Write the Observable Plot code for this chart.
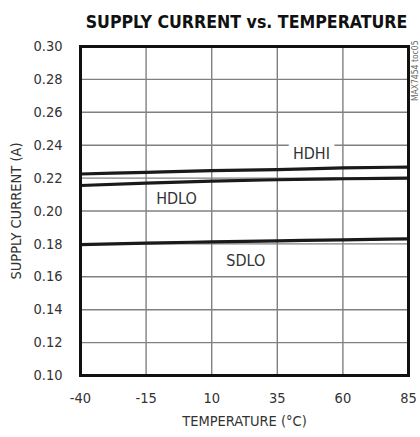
<!DOCTYPE html>
<html><head><meta charset="utf-8">
<script src="https://cdn.jsdelivr.net/npm/d3@7"></script>
<script src="https://cdn.jsdelivr.net/npm/@observablehq/plot@0.6"></script>
<style>
body{margin:0;background:#fff;}
</style>
</head><body>
<div id="chart"></div>
<script>
const temps = [-40, -15, 10, 35, 60, 85];
const hdhi = [0.2225, 0.2235, 0.2245, 0.2252, 0.2262, 0.2267];
const hdlo = [0.2155, 0.2170, 0.2182, 0.2190, 0.2196, 0.2200];
const sdlo = [0.1795, 0.1805, 0.1812, 0.1818, 0.1825, 0.1830];
const yTicks = [0.10, 0.12, 0.14, 0.16, 0.18, 0.20, 0.22, 0.24, 0.26, 0.28, 0.30];
const labels = [
  {name: "HDHI", t: 48, v: 0.2350},
  {name: "HDLO", t: -3.4, v: 0.2074},
  {name: "SDLO", t: 23, v: 0.1695}
];
const seriesNames = ["HDHI", "HDLO", "SDLO"];
const seriesVals = [hdhi, hdlo, sdlo];
const rows = seriesNames.flatMap((s, i) => temps.map((t, j) => ({series: s, t, v: seriesVals[i][j]})));

const font = "'DejaVu Sans Condensed', 'Liberation Sans Narrow', sans-serif";

const chart = Plot.plot({
  width: 420,
  height: 437,
  marginLeft: 80,
  marginRight: 12,
  marginTop: 46,
  marginBottom: 62,
  style: {fontFamily: font, fontSize: "14.5px", color: "#333", background: "#fff"},
  x: {domain: [-40, 85], ticks: temps, tickSize: 0, tickPadding: 17, tickFormat: d => String(d),
      label: "TEMPERATURE (°C)", labelAnchor: "center", labelOffset: 50, labelArrow: "none"},
  y: {domain: [0.10, 0.30], ticks: yTicks, tickSize: 0, tickPadding: 18, tickFormat: d3.format(".2f"),
      label: "SUPPLY CURRENT (A)", labelAnchor: "center", labelOffset: 70, labelArrow: "none"},
  marks: [
    Plot.gridX(temps, {stroke: "#808080", strokeOpacity: 1, strokeWidth: 1.4}),
    Plot.gridY(yTicks, {stroke: "#808080", strokeOpacity: 1, strokeWidth: 1.4}),
    Plot.text(labels, {x: "t", y: "v", text: "name", fontSize: 16, fill: "#333", stroke: "white", strokeWidth: 12, fontFamily: font}),
    Plot.line(rows, {x: "t", y: "v", z: "series", stroke: "#1a1a1a", strokeWidth: 3.2, curve: "monotone-x"}),
    Plot.frame({stroke: "#111", strokeWidth: 3}),
    Plot.text(["SUPPLY CURRENT vs. TEMPERATURE"], {frameAnchor: "top", dx: 2, dy: -31, fontSize: 17.6, fontWeight: "bold", fill: "#111", fontFamily: font}),
    Plot.text(["MAX7454 toc05"], {frameAnchor: "top-right", dx: 3, dy: -6, rotate: -90, textAnchor: "end", fontSize: 8.5, fill: "#666", fontFamily: font})
  ]
});
document.getElementById("chart").appendChild(chart);
</script>
</body></html>
